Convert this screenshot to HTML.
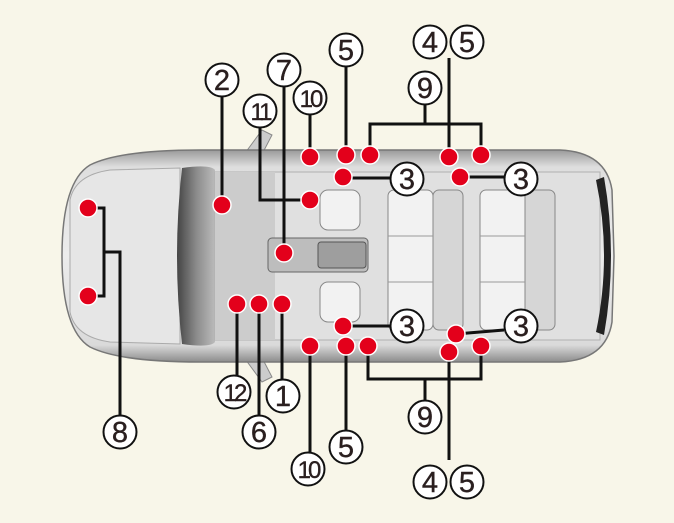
<!DOCTYPE html>
<html><head><style>html,body{margin:0;padding:0;background:#f8f6e9}svg{display:block}</style></head><body>
<svg width="674" height="523" viewBox="0 0 674 523" xmlns="http://www.w3.org/2000/svg">
<defs>
<linearGradient id="body" x1="0" y1="0" x2="0" y2="1"><stop offset="0" stop-color="#9a9a9a"/><stop offset="0.08" stop-color="#dedede"/><stop offset="0.5" stop-color="#ececec"/><stop offset="0.92" stop-color="#dadada"/><stop offset="1" stop-color="#8c8c8c"/></linearGradient>
<linearGradient id="wind" x1="0" y1="0" x2="1" y2="0"><stop offset="0" stop-color="#444"/><stop offset="0.5" stop-color="#8a8a8a"/><stop offset="1" stop-color="#bbb"/></linearGradient>
</defs>
<rect width="674" height="523" fill="#f8f6e9"/>
<path d="M240 160 L262 130 L272 135 L258 162Z" fill="#ccc" stroke="#888"/>
<path d="M240 352 L262 382 L272 377 L258 350Z" fill="#ccc" stroke="#888"/>
<path d="M90 165 Q120 150 200 150 L560 150 Q606 152 612 190 L614 256 L612 322 Q606 360 560 362 L200 362 Q120 362 90 347 Q62 330 62 256 Q62 182 90 165Z" fill="url(#body)" stroke="#777" stroke-width="1.5"/>
<path d="M70 200 Q75 175 110 170 L180 168 L180 344 L110 342 Q75 337 70 312Z" fill="#e6e6e6" stroke="#aaa"/>
<path d="M182 168 Q210 164 215 170 L215 342 Q210 348 182 344 Q172 256 182 168Z" fill="url(#wind)"/>
<rect x="215" y="172" width="385" height="168" fill="#e0e0e0" stroke="#b0b0b0"/>
<rect x="215" y="172" width="60" height="168" fill="#cccccc"/>
<rect x="268" y="238" width="100" height="34" rx="4" fill="#bdbdbd" stroke="#666"/>
<rect x="318" y="242" width="48" height="26" rx="3" fill="#9e9e9e" stroke="#555"/>
<g fill="#f2f2f2" stroke="#888">
<rect x="320" y="190" width="40" height="40" rx="8"/>
<rect x="320" y="282" width="40" height="40" rx="8"/>
<rect x="388" y="190" width="45" height="140" rx="6"/>
<rect x="433" y="190" width="30" height="140" rx="6" fill="#d6d6d6"/>
<rect x="480" y="190" width="45" height="140" rx="6"/>
<rect x="525" y="190" width="30" height="140" rx="6" fill="#d6d6d6"/>
</g>
<g stroke="#999" fill="none"><line x1="388" y1="236" x2="433" y2="236"/><line x1="388" y1="282" x2="433" y2="282"/><line x1="480" y1="236" x2="525" y2="236"/><line x1="480" y1="282" x2="525" y2="282"/></g>
<path d="M596 180 Q612 256 596 332 L604 335 Q618 256 604 177Z" fill="#222"/>
<g stroke="#111" stroke-width="3" fill="none">
<line x1="222" y1="95" x2="222" y2="205"/>
<line x1="284" y1="86" x2="284" y2="253"/>
<polyline points="260,125 260,200 310,200"/>
<line x1="310" y1="114" x2="310" y2="157"/>
<line x1="346" y1="66" x2="346" y2="155"/>
<polyline points="370,155 370,124 481,124 481,155"/>
<line x1="425" y1="104" x2="425" y2="124"/>
<line x1="449" y1="58" x2="449" y2="157"/>
<line x1="343" y1="178" x2="390" y2="178"/>
<line x1="460" y1="177" x2="504" y2="177"/>
<polyline points="88,208 104,208 104,296 88,296"/>
<polyline points="104,252 120,252 120,416"/>
<line x1="237" y1="304" x2="237" y2="376"/>
<line x1="259" y1="304" x2="259" y2="415"/>
<line x1="282" y1="304" x2="282" y2="380"/>
<line x1="343" y1="326" x2="390" y2="326"/>
<line x1="456" y1="334" x2="504" y2="330"/>
<line x1="310" y1="346" x2="310" y2="453"/>
<line x1="346" y1="346" x2="346" y2="431"/>
<polyline points="368,346 368,379 481,379 481,346"/>
<line x1="425" y1="379" x2="425" y2="401"/>
<line x1="449" y1="352" x2="449" y2="460"/>
</g>
<g fill="#e3001b" stroke="#fff" stroke-width="1.5">
<circle cx="222" cy="205" r="9"/><circle cx="284" cy="253" r="9"/><circle cx="310" cy="200" r="9"/>
<circle cx="310" cy="157" r="9"/><circle cx="346" cy="155" r="9"/><circle cx="370" cy="155" r="9"/>
<circle cx="449" cy="157" r="9"/><circle cx="481" cy="155" r="9"/>
<circle cx="343" cy="177" r="9"/><circle cx="460" cy="177" r="9"/>
<circle cx="88" cy="208" r="9"/><circle cx="88" cy="296" r="9"/>
<circle cx="237" cy="304" r="9"/><circle cx="259" cy="304" r="9"/><circle cx="282" cy="304" r="9"/>
<circle cx="343" cy="326" r="9"/><circle cx="456" cy="334" r="9"/>
<circle cx="310" cy="346" r="9"/><circle cx="346" cy="346" r="9"/><circle cx="368" cy="346" r="9"/>
<circle cx="449" cy="352" r="9"/><circle cx="481" cy="346" r="9"/>
</g>
<g font-family="Liberation Sans, sans-serif" font-size="29" text-anchor="middle" fill="#2a1f1f" stroke="#2a1f1f" stroke-width="0.4">
<g stroke="#111" stroke-width="2" fill="#fff">
<circle cx="222" cy="80" r="16.5"/><circle cx="284" cy="70" r="16.5"/><circle cx="260" cy="111" r="16.5"/>
<circle cx="310" cy="98" r="16.5"/><circle cx="346" cy="50" r="16.5"/><circle cx="425" cy="88" r="16.5"/>
<circle cx="430" cy="42" r="16.5"/><circle cx="467" cy="42" r="16.5"/>
<circle cx="407" cy="179" r="16.5"/><circle cx="521" cy="179" r="16.5"/>
<circle cx="120" cy="432" r="16.5"/>
<circle cx="234" cy="392" r="16.5"/><circle cx="283" cy="396" r="16.5"/><circle cx="259" cy="432" r="16.5"/>
<circle cx="407" cy="326" r="16.5"/><circle cx="521" cy="326" r="16.5"/>
<circle cx="308" cy="469" r="16.5"/><circle cx="346" cy="447" r="16.5"/><circle cx="425" cy="417" r="16.5"/>
<circle cx="430" cy="482" r="16.5"/><circle cx="467" cy="482" r="16.5"/>
</g>
<text x="222" y="90">2</text><text x="284" y="80">7</text><text x="260" y="120" font-size="24" letter-spacing="-3">11</text>
<text x="310" y="107" font-size="24" letter-spacing="-3">10</text><text x="346" y="60">5</text><text x="425" y="98">9</text>
<text x="430" y="52">4</text><text x="467" y="52">5</text>
<text x="407" y="189">3</text><text x="521" y="189">3</text>
<text x="120" y="442">8</text>
<text x="234" y="401" font-size="24" letter-spacing="-3">12</text><text x="283" y="406">1</text><text x="259" y="442">6</text>
<text x="407" y="336">3</text><text x="521" y="336">3</text>
<text x="308" y="478" font-size="24" letter-spacing="-3">10</text><text x="346" y="457">5</text><text x="425" y="427">9</text>
<text x="430" y="492">4</text><text x="467" y="492">5</text>
</g>
</svg>
</body></html>
